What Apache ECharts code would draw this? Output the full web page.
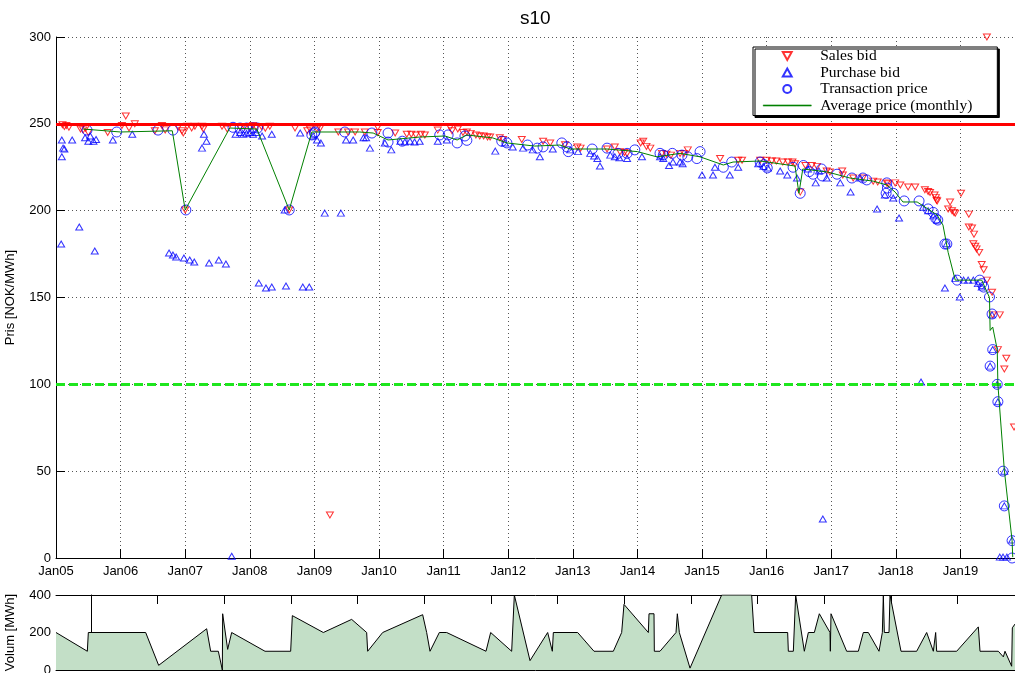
<!DOCTYPE html>
<html><head><meta charset="utf-8">
<script src="https://cdn.jsdelivr.net/npm/echarts@6/dist/echarts.min.js"></script>
<style>html,body{margin:0;padding:0;background:#fff}#c{width:1015px;height:673px}</style>
</head><body><div id="c"></div>
<script>
// ---- data ----
const chartTitle = 's10';
const seriesNames = ['Sales bid','Purchase bid','Transaction price','Average price (monthly)'];
const yearTicks = [2005,2006,2007,2008,2009,2010,2011,2012,2013,2014,2015,2016,2017,2018,2019];
const priceCeiling = 250;
const priceFloor = 100;

const salesBid = [
[2005.10,249.5],[2005.13,248.5],[2005.16,249],[2005.20,248],[2005.38,247],[2005.42,246.5],[2005.46,247.5],[2005.50,245],[2005.80,245],
[2006.02,249],[2006.08,254.5],[2006.11,300.5],[2006.13,247.6],[2006.22,250],[2006.53,246],[2006.64,249],[2006.69,246.5],[2006.89,248],[2006.95,246],[2006.97,244.7],
[2007.00,200.4],[2007.03,248.7],[2007.10,247.6],[2007.15,248.7],[2007.26,248.7],[2007.28,247],[2007.57,248.7],[2007.65,247],[2007.85,248],[2007.92,248.5],
[2008.00,248],[2008.05,249],[2008.10,248],[2008.18,248.5],[2008.24,247.5],[2008.31,248.7],[2008.61,200.4],[2008.70,247.6],[2008.89,246],[2008.93,247],
[2009.04,247],[2009.09,247.6],[2009.24,24.8],[2009.37,245.3],[2009.52,245.3],[2009.63,245.3],[2009.78,245.3],[2009.98,248],[2009.98,245],
[2010.25,244.7],[2010.43,244],[2010.50,244],[2010.57,243.6],[2010.65,244],[2010.71,243.6],[2010.91,246.4],
[2011.10,248],[2011.13,246],[2011.22,247],[2011.30,245],[2011.36,245.3],[2011.42,244.5],[2011.50,243.6],[2011.56,243],[2011.62,243],[2011.68,242.4],[2011.72,242.4],[2011.87,242],[2011.92,241],
[2012.21,241],[2012.54,240],[2012.65,239],[2012.88,238],[2013.07,236.7],[2013.12,236],[2013.53,235.5],[2013.65,236.7],[2013.73,234],[2013.80,233.5],[2013.84,233],
[2014.05,239],[2014.09,240],[2014.14,237],[2014.20,236],[2014.38,233],[2014.45,232.5],[2014.52,232],[2014.66,233],[2014.72,233],[2014.78,235],
[2015.28,230],[2015.56,229],[2015.62,229],[2015.90,229],[2016.00,229],[2016.08,228.6],[2016.15,228.6],[2016.25,228],[2016.33,228],[2016.40,228],[2016.44,227],[2016.52,210.7],
[2016.60,226],[2016.70,226],[2016.78,225.5],[2016.93,222.8],[2016.98,222.3],[2017.17,222.8],[2017.18,220.5],[2017.34,218.8],[2017.49,218.8],[2017.65,217],[2017.72,216.5],[2017.86,216],[2017.88,215.5],[2017.99,216],
[2018.07,214.8],[2018.19,213.6],[2018.30,213.6],[2018.45,212],[2018.50,211],[2018.53,210.5],[2018.60,209],[2018.62,207.5],[2018.63,206],[2018.64,205.6],[2018.81,201],[2018.84,205],[2018.87,200],[2018.90,199],[2018.92,198.6],
[2019.01,210],[2019.13,198],[2019.13,190.6],[2019.18,190],[2019.21,186.5],[2019.20,181],[2019.23,179.5],[2019.25,178],[2019.29,176],[2019.33,169],[2019.36,166],[2019.41,160],[2019.41,300],[2019.49,153],[2019.50,140],[2019.58,120],[2019.61,140],[2019.68,108.8],[2019.71,115],[2019.83,75.4]
];

const purchaseBid = [
[2005.08,180.8],[2005.09,240.7],[2005.09,231],[2005.11,236],[2005.13,235.5],[2005.25,240.7],[2005.36,190.6],[2005.45,242],[2005.50,240],[2005.53,243],[2005.58,240],[2005.60,176.8],[2005.62,241],[2005.88,240.7],
[2006.18,244],[2006.75,175.6],[2006.81,174.5],[2006.86,173.3],[2006.98,172.7],[2007.07,171.6],[2007.14,170.4],[2007.26,236],[2007.29,244],[2007.33,240],[2007.37,169.9],[2007.52,171.6],[2007.63,169.3],[2007.72,1],
[2007.78,244],[2007.85,245],[2007.90,244],[2007.95,244.5],[2008.00,245],[2008.05,244],[2008.10,245],[2008.14,158.3],[2008.19,243],[2008.25,155.5],[2008.34,156],[2008.34,244],[2008.54,200.4],[2008.56,156.6],[2008.78,244.7],[2008.82,156],[2008.92,156],[2008.98,243],
[2009.04,240.7],[2009.10,239],[2009.16,198.6],[2009.41,198.6],[2009.49,240.7],[2009.60,240.7],[2009.76,242],[2009.80,242],[2009.86,236],
[2010.09,239],[2010.19,235],[2010.33,240],[2010.40,239.5],[2010.48,240],[2010.55,239.5],[2010.63,240],[2010.91,240],[2011.05,240.7],
[2011.80,234.3],[2011.95,239],[2012.07,236.7],[2012.23,236],[2012.38,235],[2012.49,231],[2012.69,235.5],[2012.96,235],[2013.08,234],[2013.27,233],[2013.33,231.5],[2013.38,230],[2013.42,225.7],[2013.58,232],[2013.65,231],[2013.72,230.5],[2013.84,230],
[2014.07,231],[2014.35,231],[2014.40,230],[2014.49,226],[2014.55,228],[2014.66,228],[2014.70,227],[2015.00,220.5],[2015.17,220.5],[2015.20,225],[2015.43,220.5],[2015.56,225],[2015.87,227],[2015.95,225.5],[2016.02,224.6],
[2016.21,222.8],[2016.32,220.5],[2016.47,218.8],[2016.64,224],[2016.76,216],[2016.81,222.8],[2016.87,22.5],[2016.93,218.8],[2017.14,216],[2017.30,210.7],[2017.45,218.8],[2017.71,201],[2017.83,209],[2017.96,207.3],
[2018.05,195.8],[2018.39,101.3],[2018.42,202],[2018.50,200],[2018.58,197],[2018.64,194.6],[2018.76,155.5],[2018.79,181],[2018.92,161],[2018.99,150.3],[2019.05,160],[2019.12,160],[2019.20,160],[2019.27,158],[2019.33,156],
[2019.46,110.5],[2019.49,140],[2019.50,120],[2019.57,100],[2019.58,90],[2019.68,50],[2019.68,30],[2019.61,0.5],[2019.66,0.5],[2019.72,0.5],[2019.80,10.4]
];

const transactionPrice = [
[2005.48,246.4],[2005.94,245.3],[2006.58,246.4],[2006.81,246.4],[2007.01,200.4],[2007.74,248],[2007.85,247.6],[2007.95,247.6],[2008.05,247.6],[2008.12,247.6],[2008.61,200.4],
[2008.96,243.6],[2009.00,244.7],[2009.01,245.3],[2009.47,245.3],[2009.89,244.7],[2010.14,244.7],[2010.14,239.5],[2010.36,240],[2010.94,243.6],[2011.07,243.6],[2011.21,239],[2011.33,243],[2011.36,240.5],
[2011.90,240],[2011.98,239],[2012.30,237.8],[2012.45,236],[2012.54,236.7],[2012.83,239],[2012.91,236.7],[2012.93,234],[2013.30,235.5],[2013.53,236],[2013.70,233],[2013.84,233],[2013.96,235],
[2014.35,233],[2014.40,232],[2014.54,233],[2014.69,232],[2014.78,231],[2014.92,230],[2014.97,234],[2015.33,225],[2015.46,228],[2015.90,228],[2015.96,226.5],[2016.01,224.6],
[2016.41,225],[2016.52,210],[2016.57,226],[2016.66,222.5],[2016.72,221],[2016.85,224],[2016.86,220],[2017.09,221],[2017.32,218.8],[2017.49,218.8],[2017.55,217.7],
[2017.86,216],[2017.87,213],[2017.85,210],[2017.96,210],[2018.13,205.6],[2018.36,205.6],[2018.50,201],[2018.58,199],[2018.62,195.5],[2018.65,194.6],[2018.76,180.8],[2018.79,180.8],
[2018.95,160],[2019.30,160],[2019.33,158],[2019.36,156],[2019.45,150.3],[2019.49,140.5],[2019.50,120],[2019.46,110.5],[2019.57,100],[2019.58,90],[2019.66,50],[2019.68,30],[2019.80,10],[2019.80,0]
];

const avgPrice = [
[2005.42,247],[2006.00,245.3],[2006.80,246],[2007.00,200.4],[2007.69,247.6],[2008.11,247],[2008.61,200.4],[2008.96,245.3],[2009.70,245.3],[2009.91,244.7],
[2010.14,240.7],[2010.63,242.4],[2011.02,243],[2011.21,240.7],[2011.36,243.6],[2011.76,241.9],[2011.98,239],[2012.41,237.2],[2012.80,237.8],[2012.96,235.5],
[2013.53,235.5],[2014.00,234],[2014.30,231],[2014.66,233],[2014.97,231],[2015.33,226.3],[2015.48,228],[2015.90,228.6],[2016.44,225.7],[2016.50,210],[2016.56,224],
[2016.94,222.3],[2017.29,218.8],[2017.65,217],[2017.86,214.8],[2017.99,210.7],[2018.11,205],[2018.33,205],[2018.64,197.5],[2018.73,191.7],[2018.81,176],[2018.92,160],
[2019.33,160],[2019.45,150],[2019.46,131],[2019.50,133],[2019.57,120],[2019.58,100],[2019.68,50.6],[2019.80,10],[2019.81,0.5]
];

// volume panel: x = trade index, y = MWh
const volumeTicks = [0,10,20,30,40,50,60,70,80,90,100,110,120,130];
const volume = [
[-5.25,200],[-0.55,100],[-0.4,200],[8.2,200],[10.15,25],[17.35,220],[17.95,100],[19.1,100],[19.7,0],[19.75,300],[20.5,110],[21.1,200],[26.1,100],[29.95,100],[30.2,290],
[34.85,200],[39.1,270],[41.35,200],[41.5,100],[43.75,200],[49.75,295],[50.35,200],[50.85,100],[52.25,200],[53.35,200],[59.25,100],[59.95,200],[63.1,100],[63.5,400],
[65.85,50],[68.5,200],[69.2,100],[69.35,200],[73,200],[75.45,100],[78.35,100],[79.6,200],[79.95,350],[83.6,200],[83.7,300],[84.45,300],[84.5,100],[85.35,100],
[87.75,200],[87.95,300],[88.25,200],[89.85,10],[94.6,400],[99.1,400],[99.45,200],[104.5,200],[104.6,100],[105.35,100],[105.7,400],[107,100],[107.6,200],[108.5,200],
[109.25,300],[110.85,200],[110.9,100],[111,300],[113.35,100],[115.1,100],[115.85,200],[116.6,200],[118.2,100],[118.7,200],[118.85,400],[119,200],[119.7,200],[119.85,400],
[121.5,100],[123.85,100],[125.35,200],[126.35,100],[126.7,200],[126.85,100],[129.85,100],[133.1,230],[133.35,100],[136.1,100],[136.85,70],[137.1,100],[138.1,20],[138.2,225],[138.6,245]
];

// ---- chart ----
const FONT = '"Liberation Sans", Arial, Helvetica, sans-serif';
const SERIF = '"Liberation Serif", "Times New Roman", serif';
const downTri = 'path://M0,0L10,0L5,9Z';
const upTri = 'path://M5,0L10,9L0,9Z';
const chart = echarts.init(document.getElementById('c'));
const yearLabel = v => (Math.abs(v - Math.round(v)) < 1e-6) ? 'Jan' + String(Math.round(v) % 100).padStart(2, '0') : '';
const black = {color:'#000', width:1};

chart.setOption({
  animation: false,
  backgroundColor: '#fff',
  title: {text: chartTitle, left: 515, top: 4, textStyle: {fontFamily: FONT, fontSize: 19, fontWeight: 'normal', color: '#000'}},
  legend: {
    data: [
      {name: seriesNames[0]},
      {name: seriesNames[1]},
      {name: seriesNames[2]},
      {name: seriesNames[3], icon: 'path://M0,0L48,0L48,1.2L0,1.2Z',
       itemStyle: {color: '#008000', borderColor: '#008000', borderWidth: 0.5}}
    ],
    orient: 'vertical', left: 753, top: 47,
    padding: [1, 25, 2, 10], itemGap: 0.5, itemWidth: 48, itemHeight: 8,
    backgroundColor: '#fff', borderColor: '#000', borderWidth: 1,
    shadowColor: '#000', shadowBlur: 0, shadowOffsetX: 2, shadowOffsetY: 2,
    textStyle: {fontFamily: SERIF, fontSize: 15.5, color: '#000', lineHeight: 16, padding: [0, 0, 0, 4]}
  },
  grid: [
    {left: 56, top: 37, right: 0, height: 521, outerBoundsMode: 'none'},
    {left: 56, top: 595, right: 0, height: 75, outerBoundsMode: 'none'}
  ],
  xAxis: [
    {gridIndex: 0, type: 'value', min: 2005, max: 2019.845, interval: 1,
     axisLine: {onZero: false, lineStyle: black},
     axisTick: {inside: true, length: 9, lineStyle: black},
     axisLabel: {formatter: yearLabel, margin: 7, color: '#000', fontSize: 13, fontFamily: FONT, showMaxLabel: false},
     splitLine: {show: true, lineStyle: {type: [1, 3], color: '#555', width: 1}}},
    {gridIndex: 1, type: 'value', min: -5.25, max: 138.6, position: 'bottom',
     axisLine: {onZero: false, lineStyle: black}, axisTick: {show: false}, axisLabel: {show: false}, splitLine: {show: false}},
    {gridIndex: 1, type: 'value', min: -5.25, max: 138.6, position: 'top',
     axisLine: {onZero: false, lineStyle: black},
     axisTick: {inside: true, length: 9, lineStyle: black, customValues: volumeTicks},
     axisLabel: {show: false}, splitLine: {show: false}}
  ],
  yAxis: [
    {gridIndex: 0, type: 'value', min: 0, max: 300, interval: 50,
     name: 'Pris [NOK/MWh]', nameLocation: 'middle', nameGap: 39,
     nameTextStyle: {fontFamily: FONT, fontSize: 13, color: '#000'},
     axisLine: {show: true, lineStyle: black}, axisTick: {show: true, inside: true, length: 9, lineStyle: black},
     axisLabel: {margin: 5, color: '#000', fontSize: 13, fontFamily: FONT},
     splitLine: {show: true, lineStyle: {type: [1, 3], color: '#555', width: 1}}},
    {gridIndex: 1, type: 'value', min: 0, max: 400, interval: 200,
     name: 'Volum [MWh]', nameLocation: 'middle', nameGap: 39,
     nameTextStyle: {fontFamily: FONT, fontSize: 13, color: '#000'},
     axisLine: {show: true, lineStyle: black}, axisTick: {show: true, inside: true, length: 9, lineStyle: black},
     axisLabel: {margin: 5, color: '#000', fontSize: 13, fontFamily: FONT},
     splitLine: {show: false}}
  ],
  series: [
    {name: seriesNames[0], type: 'scatter', xAxisIndex: 0, yAxisIndex: 0, data: salesBid,
     symbol: downTri, symbolSize: [7, 6], itemStyle: {color: 'rgba(255,255,255,0)', borderColor: '#ff0000', borderWidth: 1}, z: 3},
    {name: seriesNames[1], type: 'scatter', xAxisIndex: 0, yAxisIndex: 0, data: purchaseBid,
     symbol: upTri, symbolSize: [7, 6], itemStyle: {color: 'rgba(255,255,255,0)', borderColor: '#0000ff', borderWidth: 1}, z: 3},
    {name: seriesNames[2], type: 'scatter', xAxisIndex: 0, yAxisIndex: 0, data: transactionPrice,
     symbol: 'circle', symbolSize: 10, itemStyle: {color: 'rgba(255,255,255,0)', borderColor: '#0000ff', borderWidth: 1}, z: 4},
    {name: seriesNames[3], type: 'line', xAxisIndex: 0, yAxisIndex: 0, data: avgPrice,
     symbol: 'none', lineStyle: {color: '#008000', width: 1}, itemStyle: {color: '#008000'}, z: 5,
     markLine: {silent: true, symbol: ['none', 'none'], label: {show: false}, animation: false,
       data: [
         {yAxis: priceCeiling, lineStyle: {color: '#ff0000', width: 3, type: 'solid'}},
         {yAxis: priceFloor, lineStyle: {color: '#1ee61e', width: 3, type: [9, 4]}}
       ]}},
    {name: 'Volum', type: 'line', xAxisIndex: 1, yAxisIndex: 1, data: volume,
     symbol: 'none', lineStyle: {color: '#000', width: 1}, areaStyle: {color: '#c3dfc7', opacity: 1}, z: 2}
  ]
});
</script>
</body></html>
